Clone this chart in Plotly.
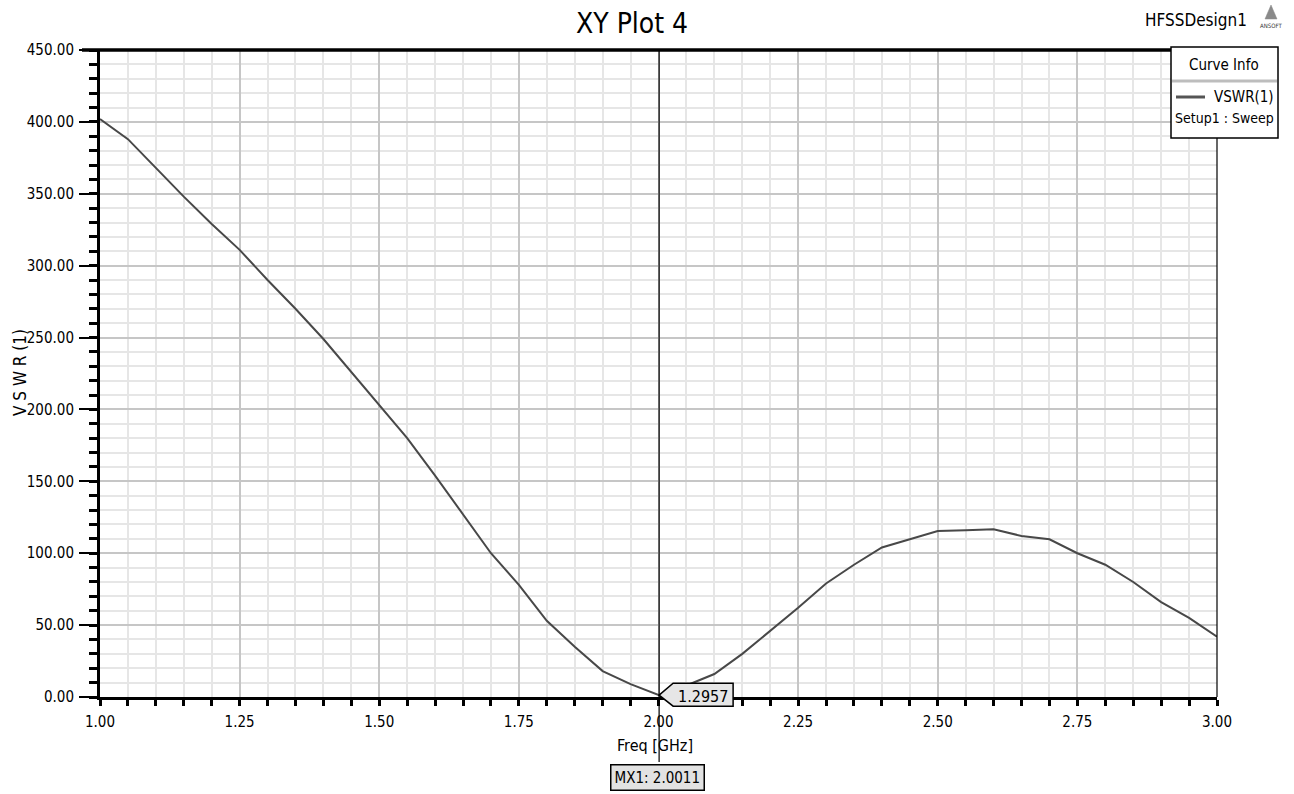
import plotly.graph_objects as go

# Sweep frequencies (GHz) and simulated VSWR(1)
freq_ghz = [1.00, 1.05, 1.10, 1.15, 1.20, 1.25, 1.30, 1.35, 1.40, 1.45,
            1.50, 1.55, 1.60, 1.65, 1.70, 1.75, 1.80, 1.85, 1.90, 1.95,
            2.0011, 2.05, 2.10, 2.15, 2.20, 2.25, 2.30, 2.35, 2.40, 2.45,
            2.50, 2.55, 2.60, 2.65, 2.70, 2.75, 2.80, 2.85, 2.90, 2.95, 3.00]
vswr = [402, 388, 368, 348, 329, 311, 290, 270, 249, 226,
        203, 180, 154, 127, 100, 78, 53, 35, 18, 9,
        1.2957, 8, 16, 30, 46, 62, 79, 92, 104, 110,
        115.5, 116, 116.6, 112, 109.7, 100, 92, 80, 66, 55, 42]

marker_freq = 2.0011
marker_value = 1.2957

x_range = [1, 3]
y_range = [0, 450]
x_ticks = [1.00, 1.25, 1.50, 1.75, 2.00, 2.25, 2.50, 2.75, 3.00]
y_ticks = [0, 50, 100, 150, 200, 250, 300, 350, 400, 450]

FONT = ("Liberation Sans Narrow, Arial Narrow, DejaVu Sans Condensed, "
        "Liberation Sans, Arial, sans-serif")
W, H = 1294, 794
L, R, T, B = 100, 77, 50, 97
PW, PH = W - L - R, H - T - B


def px_x(p):
    return (p - L) / PW


def px_y(p):
    return (H - B - p) / PH


def label(text, x, y, size, **kw):
    d = dict(text=text, xref="paper", yref="paper", x=px_x(x), y=px_y(y),
             xanchor="center", yanchor="middle", showarrow=False,
             font=dict(size=size, family=FONT, color="black"))
    d.update(kw)
    return d


# marker position as a plot fraction (the flag must not be clipped by the axes)
marker_fx = (marker_freq - x_range[0]) / (x_range[1] - x_range[0])
marker_fy = (marker_value - y_range[0]) / (y_range[1] - y_range[0])

fig = go.Figure()
fig.add_trace(go.Scatter(
    x=freq_ghz, y=vswr, mode="lines", name="VSWR(1)",
    line=dict(color="#484848", width=2), showlegend=False,
    hoverinfo="x+y",
))

fig.update_layout(
    width=W, height=H,
    margin=dict(l=L, r=R, t=T, b=B),
    paper_bgcolor="white", plot_bgcolor="white",
    font=dict(family=FONT, color="black", size=15),
    showlegend=False,
)

fig.update_xaxes(
    range=x_range, tickvals=x_ticks, tickformat=".2f",
    showline=True, linecolor="black", linewidth=3,
    ticks="outside", ticklen=6, tickwidth=3, tickcolor="black",
    showgrid=True, gridcolor="#c6c6c6", gridwidth=2,
    minor=dict(dtick=0.05, ticks="outside", ticklen=6, tickwidth=3,
               tickcolor="black", showgrid=True, gridcolor="#e6e6e6",
               gridwidth=2),
    tickfont=dict(size=15), ticklabelstandoff=3,
    zeroline=False, fixedrange=True,
)
fig.update_yaxes(
    range=y_range, tickvals=y_ticks, tickformat=".2f",
    showline=True, linecolor="black", linewidth=3,
    ticks="outside", ticklen=18, tickwidth=2, tickcolor="black",
    showgrid=True, gridcolor="#c6c6c6", gridwidth=2,
    minor=dict(dtick=10, ticks="outside", ticklen=8, tickwidth=3,
               tickcolor="black", showgrid=True, gridcolor="#e6e6e6",
               gridwidth=2),
    tickfont=dict(size=15), ticklabelstandoff=2,
    zeroline=False, fixedrange=True,
)

shapes = [
    # top frame (thick) and right frame (thin)
    dict(type="line", xref="paper", yref="paper", x0=px_x(82), x1=1, y0=1, y1=1,
         line=dict(color="black", width=3.5)),
    dict(type="line", xref="paper", yref="paper", x0=1, x1=1, y0=0, y1=1,
         line=dict(color="black", width=1.2)),
    # marker line
    dict(type="line", xref="paper", yref="paper", x0=marker_fx, x1=marker_fx,
         y0=px_y(762), y1=1, line=dict(color="black", width=1.2), layer="above"),
    # marker value flag
    dict(type="path", xref="paper", yref="paper", xsizemode="pixel", ysizemode="pixel",
         xanchor=marker_fx, yanchor=marker_fy,
         path="M0,0 L14,12 L74,12 L74,-11 L14,-11 Z",
         fillcolor="#e6e6e6", line=dict(color="black", width=1.5), layer="above"),
    # curve-info box
    dict(type="rect", xref="paper", yref="paper",
         x0=px_x(1171), x1=px_x(1278), y0=px_y(47), y1=px_y(138),
         fillcolor="white", line=dict(color="black", width=1.5), layer="above"),
    dict(type="line", xref="paper", yref="paper",
         x0=px_x(1172), x1=px_x(1277), y0=px_y(81), y1=px_y(81),
         line=dict(color="#bdbdbd", width=3), layer="above"),
    dict(type="line", xref="paper", yref="paper",
         x0=px_x(1176), x1=px_x(1205), y0=px_y(97), y1=px_y(97),
         line=dict(color="#555555", width=3), layer="above"),
    # vendor logo triangle
    dict(type="path", xref="paper", yref="paper",
         path=f"M{px_x(1271)},{px_y(5)} L{px_x(1265)},{px_y(19)} L{px_x(1277)},{px_y(19)} Z",
         fillcolor="#8a8a8a", line=dict(color="#8a8a8a", width=0.5), layer="above"),
]
fig.update_layout(shapes=shapes)

annotations = [
    label("XY Plot 4", 632, 23, 28),
    label("HFSSDesign1", 1196, 20, 17),
    label("ANSOFT", 1271, 25, 6, font=dict(size=6, family=FONT, color="#333333")),
    label("Curve Info", 1224, 65, 15),
    label("VSWR(1)", 1276, 97, 15, xanchor="right"),
    label("Setup1 : Sweep", 1224, 118, 14),
    label("Freq [GHz]", 655, 745, 16),
    label("V S W R (1)", 20, 373, 17, textangle=-90),
    dict(text=f"{marker_value:.4f}", xref="paper", yref="paper", x=marker_fx,
         y=marker_fy, xanchor="center", yanchor="middle", xshift=44, yshift=-1,
         showarrow=False, font=dict(size=16, family=FONT, color="black")),
    dict(text=f"MX1: {marker_freq:.4f}", xref="paper", yref="paper", x=marker_fx,
         y=px_y(777), xanchor="center", yanchor="middle", xshift=-2,
         showarrow=False, bgcolor="#e2e2e2",
         bordercolor="black", borderwidth=1.5, borderpad=3,
         font=dict(size=15, family=FONT, color="black")),
]
fig.update_layout(annotations=annotations)

fig.write_html("out.html")
